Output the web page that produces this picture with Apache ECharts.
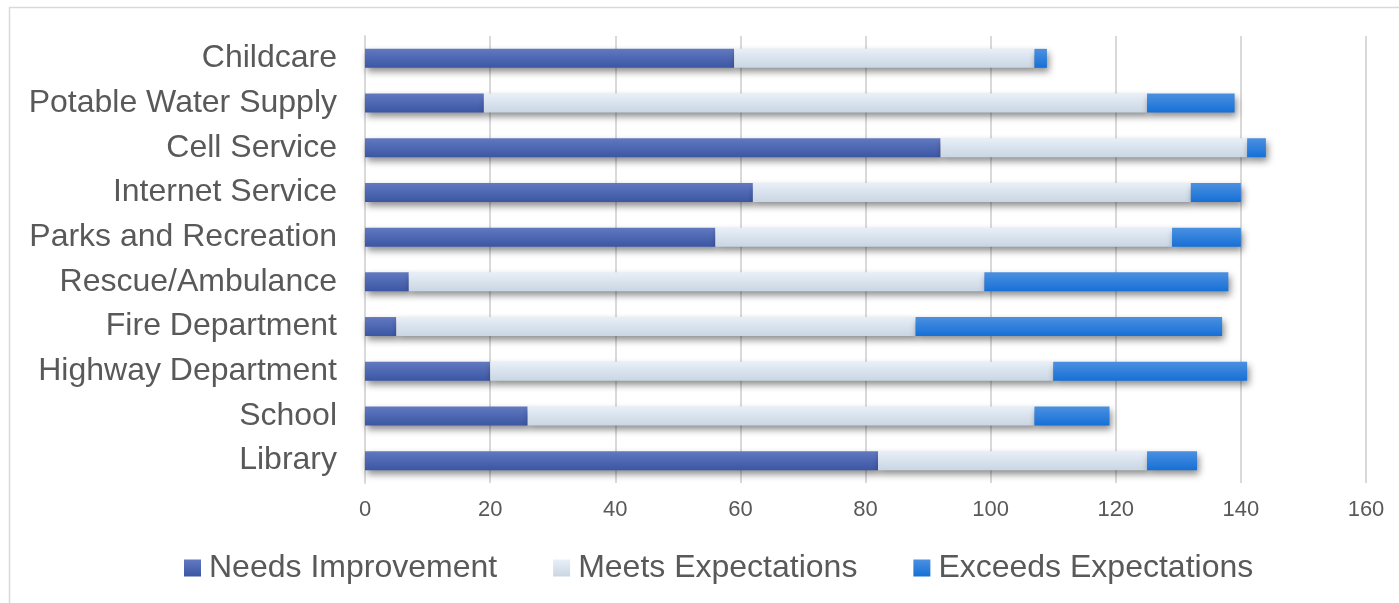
<!DOCTYPE html>
<html>
<head>
<meta charset="utf-8">
<script src="https://cdn.jsdelivr.net/npm/echarts@6.0.0/dist/echarts.min.js"></script>
<style>
  html, body { margin: 0; padding: 0; background: #ffffff; }
  #chart { width: 1399px; height: 603px; }
</style>
</head>
<body>
<div id="chart"></div>
<script>
// Categories listed top to bottom
const categories = ["Childcare", "Potable Water Supply", "Cell Service", "Internet Service",
  "Parks and Recreation", "Rescue/Ambulance", "Fire Department", "Highway Department", "School", "Library"];
const needsImprovement = [59, 19, 92, 62, 56, 7, 5, 20, 26, 82];
const meetsExpectations = [48, 106, 49, 70, 73, 92, 83, 90, 81, 43];
const exceedsExpectations = [2, 14, 3, 8, 11, 39, 49, 31, 12, 8];
const seriesNames = ["Needs Improvement", "Meets Expectations", "Exceeds Expectations"];
const xTicks = [0, 20, 40, 60, 80, 100, 120, 140, 160];

const chart = echarts.init(document.getElementById('chart'), null, { renderer: 'canvas' });
const FONT = '"Liberation Sans", Arial, sans-serif';
const TXT = '#595959';

function grad(top, bottom) {
  return new echarts.graphic.LinearGradient(0, 0, 0, 1, [
    { offset: 0, color: top }, { offset: 1, color: bottom }
  ]);
}
const fills = [grad('#6279c1', '#3b56a4'), grad('#e8eff8', '#c9d6e3'), grad('#4b90e1', '#1670d6')];
const dataSets = [needsImprovement, meetsExpectations, exceedsExpectations];

chart.setOption({
  animation: false,
  backgroundColor: '#ffffff',
  textStyle: { fontFamily: FONT, color: TXT },
  graphic: [{
    type: 'rect', shape: { x: 9.5, y: 7.5, width: 1400, height: 610 },
    style: { fill: 'none', stroke: '#d9d9d9', lineWidth: 1.5 }, silent: true, z: -10
  }],
  grid: { left: 365, right: 33, top: 36, bottom: 120, containLabel: false },
  xAxis: {
    type: 'value', min: xTicks[0], max: xTicks[xTicks.length - 1], interval: 20,
    axisLine: { show: false }, axisTick: { show: false },
    splitLine: { show: true, lineStyle: { color: '#d9d9d9', width: 2 } },
    axisLabel: { fontSize: 22, color: TXT, fontFamily: FONT, margin: 16 }
  },
  yAxis: {
    type: 'category', data: categories, inverse: true,
    axisLine: { show: true, lineStyle: { color: '#d9d9d9', width: 2 } },
    axisTick: { show: false },
    axisLabel: { fontSize: 32, color: TXT, fontFamily: FONT, margin: 28 }
  },
  legend: {
    left: 184, top: 552, padding: 0, itemWidth: 17, itemHeight: 17, itemGap: 56,
    icon: 'rect',
    textStyle: { fontSize: 32, color: TXT, fontFamily: FONT, padding: [0, 0, 0, 3] },
    itemStyle: { shadowBlur: 0, shadowOffsetX: 0, shadowOffsetY: 0 },
    data: seriesNames
  },
  series: seriesNames.map((name, i) => ({
    name: name, type: 'bar', stack: 'total', barWidth: 19,
    data: dataSets[i],
    itemStyle: {
      color: fills[i],
      shadowColor: 'rgba(0,0,0,0.45)', shadowBlur: 7, shadowOffsetX: 2, shadowOffsetY: 4
    },
    emphasis: { disabled: true }
  }))
});
</script>
</body>
</html>
